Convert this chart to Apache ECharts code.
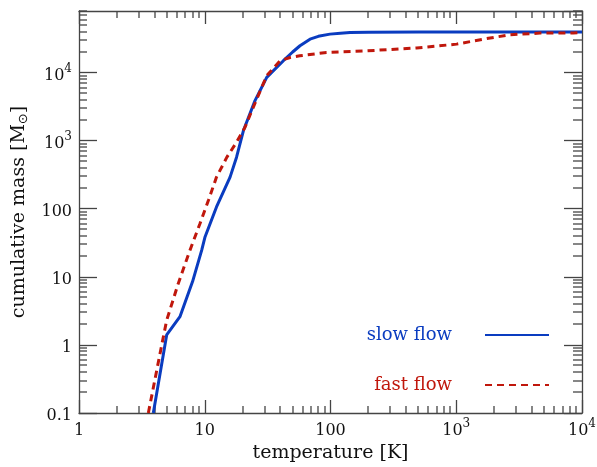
<!DOCTYPE html>
<html>
<head>
<meta charset="utf-8">
<script src="https://cdn.jsdelivr.net/npm/echarts@6/dist/echarts.min.js"></script>
<style>
html, body { margin: 0; padding: 0; background: #fff; }
#chart { width: 597px; height: 467px; }
</style>
</head>
<body>
<div id="chart"></div>
<script>
// slow flow (blue, solid)
var slowTemp = [3.9, 4.98, 6.35, 8.0, 9.46, 10.05, 12.4, 15.9, 17.9, 20.3, 25.1, 31.1, 42.2, 50, 57.2, 68.7, 80, 99, 120, 143, 200, 500, 1000, 3000, 10000];
var slowMass = [0.1, 1.4, 2.6, 8.5, 24.6, 38.5, 106, 291, 571, 1406, 3860, 8470, 14900, 20000, 24700, 30900, 34000, 36600, 37800, 38600, 39000, 39200, 39300, 39300, 39300];
// fast flow (red, dashed)
var fastTemp = [3.56, 4.55, 4.98, 6.16, 7.63, 9.17, 10.7, 12.4, 15, 17.9, 20.9, 24.3, 31.1, 39.7, 47.8, 57, 93, 194, 484, 1007, 1641, 2673, 4637, 8530, 10000];
var fastMass = [0.1, 1.0, 2.3, 8, 24.6, 60.5, 133, 291, 571, 948, 1570, 3080, 8970, 14900, 16600, 17600, 19700, 20800, 22900, 26100, 30900, 35800, 37900, 38000, 38500];

// tick labels, "^" marks a superscript
var xTickValues = [1, 10, 100, 1000, 10000];
var xTickLabels = ['1', '10', '100', '10^3', '10^4'];
var yTickValues = [0.1, 1, 10, 100, 1000, 10000];
var yTickLabels = ['0.1', '1', '10', '100', '10^3', '10^4'];

var FONT = 'DejaVu Serif';
var AXIS_COLOR = '#444';
var BLUE = '#0a3cc0';
var RED = '#c0170c';

function zip(a, b) {
    return a.map(function (v, i) { return [v, b[i]]; });
}

function tickFormatter(values, labels) {
    return function (v) {
        for (var i = 0; i < values.length; i++) {
            if (Math.abs(Math.log10(values[i]) - Math.log10(v)) < 1e-6) {
                var parts = labels[i].split('^');
                return '{n|' + parts[0] + '}' + (parts[1] ? '{s|' + parts[1] + '}' : '');
            }
        }
        return '';
    };
}

var labelRich = {
    n: { fontFamily: FONT, fontSize: 16, color: '#111', lineHeight: 22, verticalAlign: 'bottom' },
    s: { fontFamily: FONT, fontSize: 12, color: '#111', lineHeight: 13, padding: [0, 0, 9, 0], verticalAlign: 'bottom' }
};

function xAxisOf(pos, showLabel) {
    return {
        type: 'log', logBase: 10, min: 1, max: 10000, position: pos,
        splitNumber: 4,
        name: showLabel ? 'temperature [K]' : '',
        nameLocation: 'middle', nameGap: 29,
        nameTextStyle: { fontFamily: FONT, fontSize: 19, color: '#111' },
        axisLine: { show: true, onZero: false, lineStyle: { color: AXIS_COLOR, width: 1.3 } },
        axisTick: { show: true, inside: true, length: 13, lineStyle: { color: AXIS_COLOR, width: 1.3 } },
        axisLabel: {
            show: showLabel, margin: 4,
            formatter: tickFormatter(xTickValues, xTickLabels), rich: labelRich,
            showMinLabel: true, showMaxLabel: true
        },
        splitLine: { show: false }
    };
}

function yAxisOf(pos, showLabel) {
    return {
        type: 'log', logBase: 10, min: 0.1, max: 80000, position: pos,
        name: showLabel ? 'cumulative mass [M{sub|⊙}]' : '',
        nameLocation: 'middle', nameGap: 47,
        nameTextStyle: {
            fontFamily: FONT, fontSize: 19, color: '#111',
            rich: {
                sub: { fontFamily: 'DejaVu Sans', fontSize: 13, color: '#111', padding: [10, 0, 0, 0], verticalAlign: 'top' }
            }
        },
        axisLine: { show: true, onZero: false, lineStyle: { color: AXIS_COLOR, width: 1.3 } },
        axisTick: { show: true, inside: true, length: 18, lineStyle: { color: AXIS_COLOR, width: 1.3 } },
        axisLabel: {
            show: showLabel, margin: 7,
            formatter: tickFormatter(yTickValues, yTickLabels), rich: labelRich,
            showMinLabel: true, showMaxLabel: false
        },
        splitLine: { show: false }
    };
}

var chart = echarts.init(document.getElementById('chart'));

chart.setOption({
    animation: false,
    backgroundColor: '#fff',
    grid: { left: 79, right: 15, top: 11, bottom: 54, containLabel: false, outerBoundsMode: 'none' },
    xAxis: [xAxisOf('bottom', true), xAxisOf('top', false)],
    yAxis: [yAxisOf('left', true), yAxisOf('right', false)],
    legend: {
        orient: 'vertical', align: 'right', right: 47, top: 326, padding: 0,
        itemWidth: 64, itemHeight: 14, itemGap: 32,
        selectedMode: false,
        itemStyle: { opacity: 0 },
        textStyle: { fontFamily: FONT, fontSize: 18, padding: [0, 28, 10, 0] },
        data: [
            { name: 'slow flow', textStyle: { color: BLUE } },
            { name: 'fast flow', textStyle: { color: RED } }
        ]
    },
    series: [
        {
            name: 'slow flow', type: 'line', symbol: 'none',
            xAxisIndex: 0, yAxisIndex: 0,
            itemStyle: { color: BLUE },
            lineStyle: { color: BLUE, width: 3 },
            data: zip(slowTemp, slowMass)
        },
        {
            name: 'fast flow', type: 'line', symbol: 'none',
            xAxisIndex: 0, yAxisIndex: 0,
            itemStyle: { color: RED },
            lineStyle: { color: RED, width: 3, type: [7, 5] },
            data: zip(fastTemp, fastMass)
        }
    ]
});

// minor log ticks on all four sides
var minor = [];
var x0 = chart.convertToPixel({ xAxisIndex: 0 }, 1);
var x1 = chart.convertToPixel({ xAxisIndex: 0 }, 10000);
var yb = chart.convertToPixel({ yAxisIndex: 0 }, 0.1);
var yt = chart.convertToPixel({ yAxisIndex: 0 }, 80000);
function tick(xa, ya, xb, yb2) {
    minor.push({
        type: 'line', silent: true,
        shape: { x1: xa, y1: ya, x2: xb, y2: yb2 },
        style: { stroke: AXIS_COLOR, lineWidth: 1.3 }
    });
}
for (var d = 0; d < 4; d++) {
    for (var k = 2; k < 10; k++) {
        var px = Math.round(chart.convertToPixel({ xAxisIndex: 0 }, k * Math.pow(10, d)));
        tick(px, yb, px, yb - 7);
        tick(px, yt, px, yt + 7);
    }
}
for (var e = -1; e < 5; e++) {
    for (var j = 2; j < 10; j++) {
        var v = j * Math.pow(10, e);
        if (v > 80000) continue;
        var py = Math.round(chart.convertToPixel({ yAxisIndex: 0 }, v));
        tick(x0, py, x0 + 8, py);
        tick(x1, py, x1 - 9, py);
    }
}
chart.setOption({ graphic: minor });
</script>
</body>
</html>
